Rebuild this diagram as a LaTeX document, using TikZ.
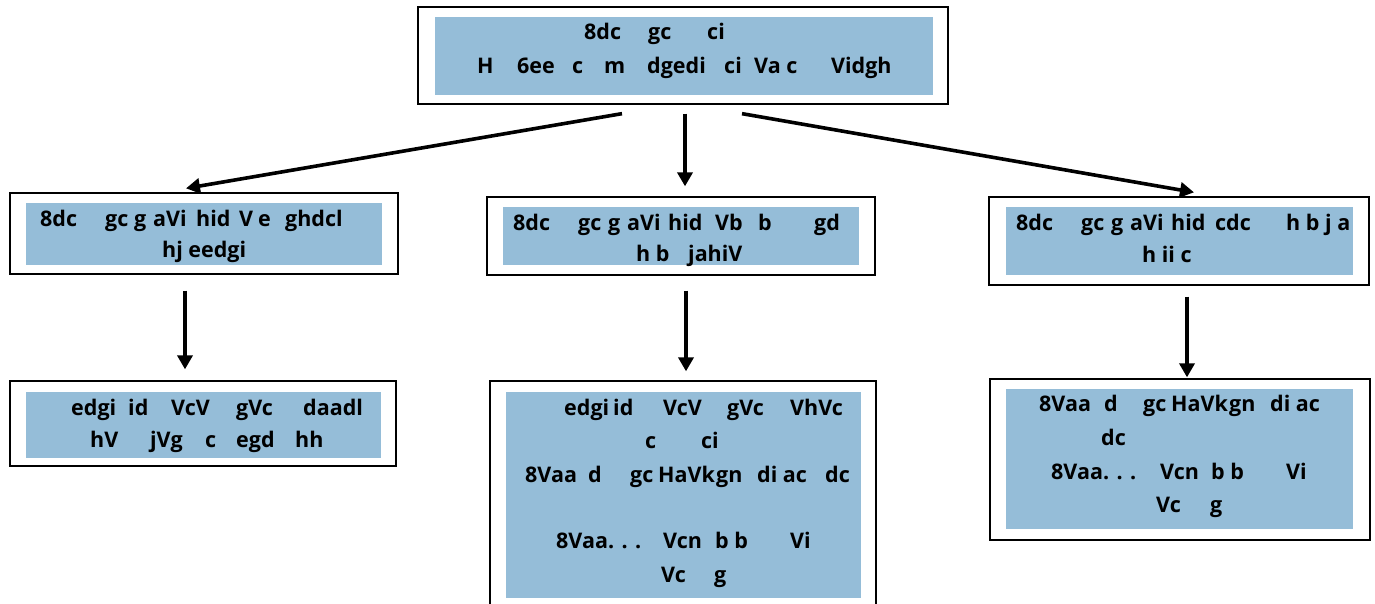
\documentclass[tikz,border=0pt]{standalone}
\usepackage{fontspec}
\setmainfont{Open Sans}
\usetikzlibrary{arrows.meta}
\definecolor{boxblue}{RGB}{149,189,216}
\newcommand{\fr}[2]{\makebox[#1pt][l]{#2}}
\begin{document}
\begin{tikzpicture}[x=1pt,y=-1pt,
  outerbox/.style={draw=black, line width=1.3pt, fill=white, rectangle, inner sep=0pt},
  innerbox/.style={fill=boxblue, draw=none, rectangle, inner sep=0pt},
  txt/.style={anchor=base west, inner sep=0pt, font=\fontsize{21.5}{25}\selectfont\bfseries},
  arr/.style={line width=3.6pt, -{Triangle[length=14pt,width=15pt]}}]
\useasboundingbox (0,0) rectangle (1375,604);
\fill[white] (0,0) rectangle (1375,604);
% outer frames
\node[outerbox, minimum width=530pt, minimum height=97pt] (o1) at (683,55.5) {};
\node[outerbox, minimum width=388pt, minimum height=81pt] (m1) at (204,233.5) {};
\node[outerbox, minimum width=388pt, minimum height=78pt] (m2) at (681,236) {};
\node[outerbox, minimum width=380pt, minimum height=88pt] (m3) at (1179,241) {};
\node[outerbox, minimum width=386pt, minimum height=85pt] (b1) at (203,423.5) {};
\node[outerbox, minimum width=386pt, minimum height=229pt] (b2) at (683,495.5) {};
\node[outerbox, minimum width=380pt, minimum height=161pt] (b3) at (1180,459.5) {};
% inner blue boxes
\node[innerbox, minimum width=498pt, minimum height=78pt] (i1) at (684,56) {};
\node[innerbox, minimum width=356pt, minimum height=62pt] (im1) at (204,234) {};
\node[innerbox, minimum width=356pt, minimum height=58pt] (im2) at (681,236) {};
\node[innerbox, minimum width=347pt, minimum height=68pt] (im3) at (1179.5,241) {};
\node[innerbox, minimum width=355pt, minimum height=66pt] (ib1) at (203.5,425) {};
\node[innerbox, minimum width=355pt, minimum height=206pt] (ib2) at (683.5,495) {};
\node[innerbox, minimum width=347pt, minimum height=140pt] (ib3) at (1179.5,459) {};
% texts: top
\node[txt] (t1a) at (584,40) {\fr{64}{8dc}\fr{59}{gc}ci};
\node[txt] (t1b) at (477,74) {\fr{40}{H}\fr{55}{6ee}\fr{32}{c}\fr{43}{m}\fr{77}{dgedi}\fr{30}{ci}\fr{77}{Va c}Vidgh};
% left middle
\node[txt] (tm1a) at (40,226) {\fr{65}{8dc}\fr{29}{gc}\fr{19}{g}\fr{43}{aVi}\fr{43}{hid}\fr{19}{V}\fr{27}{e}\fr{51}{ghdc}l};
\node[txt] (tm1b) at (162,257) {hj eedgi};
% middle middle
\node[txt] (tm2a) at (513,230) {\fr{65}{8dc}\fr{30}{gc}\fr{19}{g}\fr{41}{aVi}\fr{47}{hid}\fr{43}{Vb}\fr{56}{b}gd};
\node[txt] (tm2b) at (636,261) {\fr{52}{h b}jahiV};
% right middle
\node[txt] (tm3a) at (1016,230) {\fr{65}{8dc}\fr{30}{gc}\fr{19}{g}\fr{41}{aVi}\fr{44}{hid}\fr{71}{cdc}h b j a};
\node[txt] (tm3b) at (1142,262) {h ii c};
% left bottom
\node[txt] (tb1a) at (71,415) {\fr{57}{edgi}\fr{43}{id}\fr{65}{VcV}\fr{67}{gVc}daadl};
\node[txt] (tb1b) at (90,447) {\fr{60}{hV}\fr{55}{jVg}\fr{31}{c}\fr{59}{egd}hh};
% middle bottom
\node[txt] (tb2a) at (564,415) {\fr{49}{edgi}\fr{50}{id}\fr{64}{VcV}\fr{63}{gVc}VhVc};
\node[txt] (tb2b) at (645,448) {\fr{56}{c}ci};
\node[txt] (tb2c) at (525,482) {\fr{63}{8Vaa}\fr{42}{d}\fr{28}{gc}\fr{58}{HaVk}\fr{41}{gn}\fr{68}{di ac}dc};
\node[txt] (tb2d) at (556,548) {\fr{107}{8Vaa. . .}\fr{52}{Vcn}\fr{75}{b b}Vi};
\node[txt] (tb2e) at (661,582) {\fr{53}{Vc}g};
% right bottom
\node[txt] (tb3a) at (1039,411) {\fr{65}{8Vaa}\fr{39}{d}\fr{28}{gc}\fr{58}{HaVk}\fr{41}{gn}di ac};
\node[txt] (tb3b) at (1101,445) {dc};
\node[txt] (tb3c) at (1051,479) {\fr{109}{8Vaa. . .}\fr{51}{Vcn}\fr{75}{b b}Vi};
\node[txt] (tb3d) at (1156,512) {\fr{54}{Vc}g};
% arrows
\draw[arr] ([xshift=-61pt,yshift=-9pt]o1.south) -- ([xshift=-18pt,yshift=4pt]m1.north);
\draw[arr] ([xshift=2pt,yshift=-9pt]o1.south) -- ([xshift=4pt,yshift=10pt]m2.north);
\draw[arr] ([xshift=59pt,yshift=-9pt]o1.south) -- ([xshift=15pt,yshift=4pt]m3.north);
\draw[arr] ([xshift=-19pt,yshift=-16pt]m1.south) -- ([xshift=-18pt,yshift=11pt]b1.north);
\draw[arr] ([xshift=5pt,yshift=-15pt]m2.south) -- ([xshift=3pt,yshift=9pt]b2.north);
\draw[arr] ([xshift=8pt,yshift=-11pt]m3.south) -- ([xshift=7pt,yshift=1pt]b3.north);
\end{tikzpicture}
\end{document}
